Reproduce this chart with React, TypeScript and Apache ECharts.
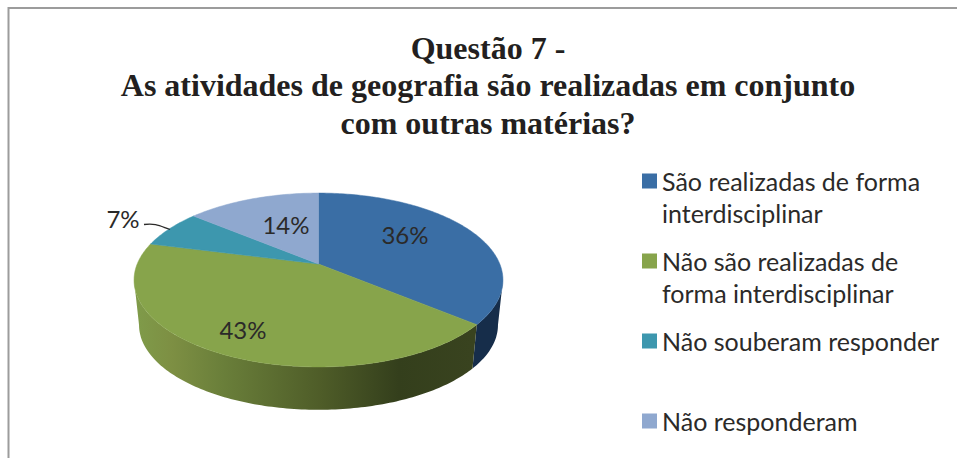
import React, { useEffect, useRef } from "react";
import * as echarts from "echarts";

const titleText = "Questão 7 -\nAs atividades de geografia são realizadas em conjunto\ncom outras matérias?";
const categories = [
  "São realizadas de forma interdisciplinar",
  "Não são realizadas de forma interdisciplinar",
  "Não souberam responder",
  "Não responderam",
];
const legendLines = [
  "São realizadas de forma\ninterdisciplinar",
  "Não são realizadas de\nforma interdisciplinar",
  "Não souberam responder\n ",
  "Não responderam\n ",
];
const values = [36, 43, 7, 14];
const colors = ["#3a6ea5", "#87a44b", "#3d97ae", "#8fa8cf"];
const sideColors: any[] = [
  "#162d4a",
  {
    type: "linear", x: 139, y: 0, x2: 472, y2: 0, global: true,
    colorStops: [
      { offset: 0, color: "#7f9a49" },
      { offset: 0.1, color: "#7d8f43" },
      { offset: 0.25, color: "#6a7f3a" },
      { offset: 0.55, color: "#4e5c28" },
      { offset: 0.78, color: "#343f1c" },
      { offset: 1, color: "#39431f" },
    ],
  },
  "#2a5a68",
  "#5a6a85",
];
// One label position per value, in the order of `values`
const labelAnchors = [[405, 234], [243, 329], [123, 218], [286, 224]];

// Perspective projection of the pie's circular top face
const CX = 318.5, CY = 264, A = 181.3, B = 84, K = 0.184;
const project = (deg: number): [number, number] => {
  const t = (deg * Math.PI) / 180;
  const u = Math.sin(t), v = Math.cos(t), w = 1 + K * v;
  return [CX + (A * u) / w, CY - (B * v) / w];
};
const ELL_Y = 280, LOW_Y = 325, SX = 0.973, SY = 0.975;
const lower = ([x, y]: [number, number]): [number, number] => [CX + SX * (x - CX), LOW_Y + SY * (y - ELL_Y)];
const FRONT_START = 100.6, FRONT_END = 259.4;

const total = values.reduce((a, b) => a + b, 0);
const sample = (a: number, b: number) => {
  const pts: [number, number][] = [];
  const n = Math.max(2, Math.ceil(Math.abs(b - a)));
  for (let i = 0; i <= n; i++) pts.push(project(a + ((b - a) * i) / n));
  return pts;
};

const renderSlice = (index: number) => (_p: any, api: any) => {
  const value = api.value(0);
  const before = values.slice(0, index).reduce((a, b) => a + b, 0);
  const start = (before / total) * 360;
  const end = start + (value / total) * 360;
  const children: any[] = [];
  const s = Math.max(start, FRONT_START), e = Math.min(end, FRONT_END);
  if (e > s) {
    const top = sample(s, e);
    children.push({
      type: "polygon",
      shape: { points: [...top, ...top.slice().reverse().map(lower)] },
      style: { fill: sideColors[index], stroke: "none" },
    });
  }
  children.push({
    type: "polygon",
    shape: { points: [[CX, CY], ...sample(start, end)] },
    style: { fill: colors[index], stroke: colors[index], lineWidth: 0.5 },
  });
  return { type: "group", children };
};

const renderLabels = (_p: any, api: any) => {
  const i = api.value(0);
  const a = labelAnchors[i];
  const children: any[] = [
    {
      type: "text",
      style: {
        x: a[0], y: a[1], text: `${api.value(1)}%`, fill: "#2b2a29",
        font: "24px Lato", textAlign: "center", textVerticalAlign: "middle",
      },
    },
  ];
  if (api.value(1) === 7) {
    children.push({
      type: "bezierCurve",
      shape: { x1: 144, y1: 224.5, cpx1: 156, cpy1: 223, cpx2: 160, cpy2: 226, x2: 170, y2: 229.5 },
      style: { stroke: "#2b2a29", fill: "none", lineWidth: 1.3 },
    });
  }
  return { type: "group", children };
};

export default function App() {
  const ref = useRef<HTMLDivElement>(null);
  useEffect(() => {
    const chart = echarts.init(ref.current!, undefined, { renderer: "svg" });
    const iconPath = "path://M0 0H15V15H0Z M0 47H0.01V47.01H0Z";
    chart.setOption({
      animation: false,
      backgroundColor: "#ffffff",
      title: {
        text: titleText,
        left: 483,
        top: 24,
        textAlign: "center",
        textStyle: { fontFamily: "Liberation Serif", fontWeight: "bold", fontSize: 32, lineHeight: 37.5, color: "#231f20" },
      },
      legend: {
        orient: "vertical",
        left: 642,
        top: 165,
        height: 320,
        padding: 0,
        itemWidth: 15,
        itemHeight: 47,
        itemGap: 16,
        icon: iconPath,
        selectedMode: false,
        data: categories,
        formatter: (name: string) => legendLines[categories.indexOf(name)],
        textStyle: { fontFamily: "Lato", fontSize: 25, lineHeight: 32, color: "#2b2a29" },
      },
      graphic: [
        {
          type: "polyline",
          shape: { points: [[8.5, 458], [8.5, 8], [957, 8]] },
          style: { stroke: "#9c9c9c", fill: "none", lineWidth: 2 },
        },
      ],
      series: [
        ...categories.map((name, i) => ({
          type: "custom",
          name,
          coordinateSystem: "none",
          color: colors[i],
          data: [[values[i]]],
          renderItem: renderSlice(i),
          silent: true,
        })),
        {
          type: "custom",
          name: "labels",
          coordinateSystem: "none",
          data: values.map((v, i) => [i, v]),
          renderItem: renderLabels,
          silent: true,
        },
      ],
    });
    return () => chart.dispose();
  }, []);
  return <div ref={ref} style={{ position: "absolute", left: 0, top: 0, width: 957, height: 458 }} />;
}
